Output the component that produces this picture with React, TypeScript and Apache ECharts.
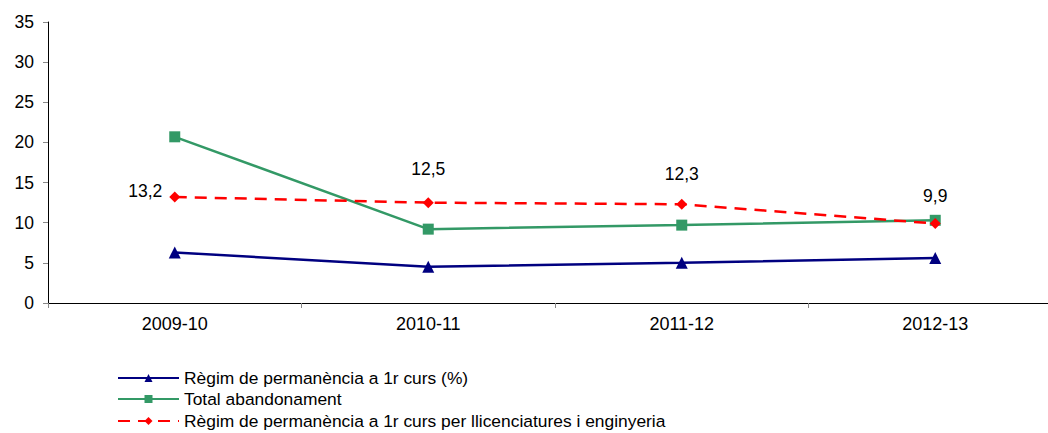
import React, { useEffect, useRef } from "react";
import * as echarts from "echarts";

const categories = ["2009-10", "2010-11", "2011-12", "2012-13"];
const regimPermanencia = [6.3, 4.5, 5.0, 5.6];
const totalAbandonament = [20.7, 9.2, 9.7, 10.3];
const regimLlicenciatures = [13.2, 12.5, 12.3, 9.9];
const yTicks = [0, 5, 10, 15, 20, 25, 30, 35];

const seriesNames = [
  "Règim de permanència a 1r curs (%)",
  "Total abandonament",
  "Règim de permanència a 1r curs per llicenciatures i enginyeria",
];

const fmt = (v: number) => v.toFixed(1).replace(".", ",");

export default function App() {
  const ref = useRef<HTMLDivElement>(null);
  useEffect(() => {
    if (!ref.current) return;
    const chart = echarts.init(ref.current, null, { renderer: "svg" });
    const font = "Liberation Sans, Arial, sans-serif";
    const labelCfg = [
      { position: "left", distance: 7, offset: [0, -6] },
      { position: "top", distance: 19, offset: [0, 0] },
      { position: "top", distance: 16, offset: [0, 0] },
      { position: "top", distance: 13, offset: [0, 0] },
    ];
    const legendTops = [369, 390, 412];
    chart.setOption({
      animation: false,
      textStyle: { fontFamily: font },
      grid: { left: 48, top: 22, bottom: 130, right: 8 },
      legend: seriesNames.map((n, i) => ({
        orient: "vertical",
        left: 117,
        top: legendTops[i],
        padding: 0,
        itemWidth: 61,
        itemHeight: 10,
        itemGap: 0,
        textStyle: { fontSize: 17.4, color: "#000", fontFamily: font, lineHeight: 18 },
        data: [n],
      })),
      xAxis: {
        type: "category",
        data: categories,
        boundaryGap: true,
        axisLine: { lineStyle: { color: "#000", width: 1 } },
        axisTick: { show: true, inside: false, length: 5, lineStyle: { color: "#888" } },
        axisLabel: { fontSize: 18, color: "#000", margin: 12, fontFamily: font },
      },
      yAxis: {
        type: "value",
        min: yTicks[0],
        max: yTicks[yTicks.length - 1],
        interval: 5,
        splitLine: { show: false },
        axisLine: { show: true, lineStyle: { color: "#000", width: 1 } },
        axisTick: { show: true, length: 5, lineStyle: { color: "#888" } },
        axisLabel: { fontSize: 17.5, color: "#000", margin: 14, fontFamily: font },
      },
      series: [
        {
          name: seriesNames[0],
          type: "line",
          data: regimPermanencia,
          symbol: "triangle",
          symbolSize: 12,
          itemStyle: { color: "#000080" },
          lineStyle: { color: "#000080", width: 2.5 },
        },
        {
          name: seriesNames[1],
          type: "line",
          data: totalAbandonament,
          symbol: "rect",
          symbolSize: 11,
          itemStyle: { color: "#339966" },
          lineStyle: { color: "#339966", width: 2.5 },
        },
        {
          name: seriesNames[2],
          type: "line",
          z: 3,
          data: regimLlicenciatures.map((v, i) => ({
            value: v,
            label: {
              show: true,
              position: labelCfg[i].position,
              distance: labelCfg[i].distance,
              offset: labelCfg[i].offset,
              formatter: () => fmt(v),
              fontSize: 17.5,
              color: "#000",
              fontFamily: font,
            },
          })),
          symbol: "diamond",
          symbolSize: 11,
          itemStyle: { color: "#FF0000" },
          lineStyle: { color: "#FF0000", width: 2.5, type: [12, 8] },
        },
      ],
    });
    return () => chart.dispose();
  }, []);
  return (
    <div
      style={{
        position: "fixed",
        left: 0,
        top: 0,
        width: 1048,
        height: 433,
        overflow: "hidden",
        background: "#fff",
      }}
    >
      <div ref={ref} style={{ width: 1070, height: 433 }} />
    </div>
  );
}
